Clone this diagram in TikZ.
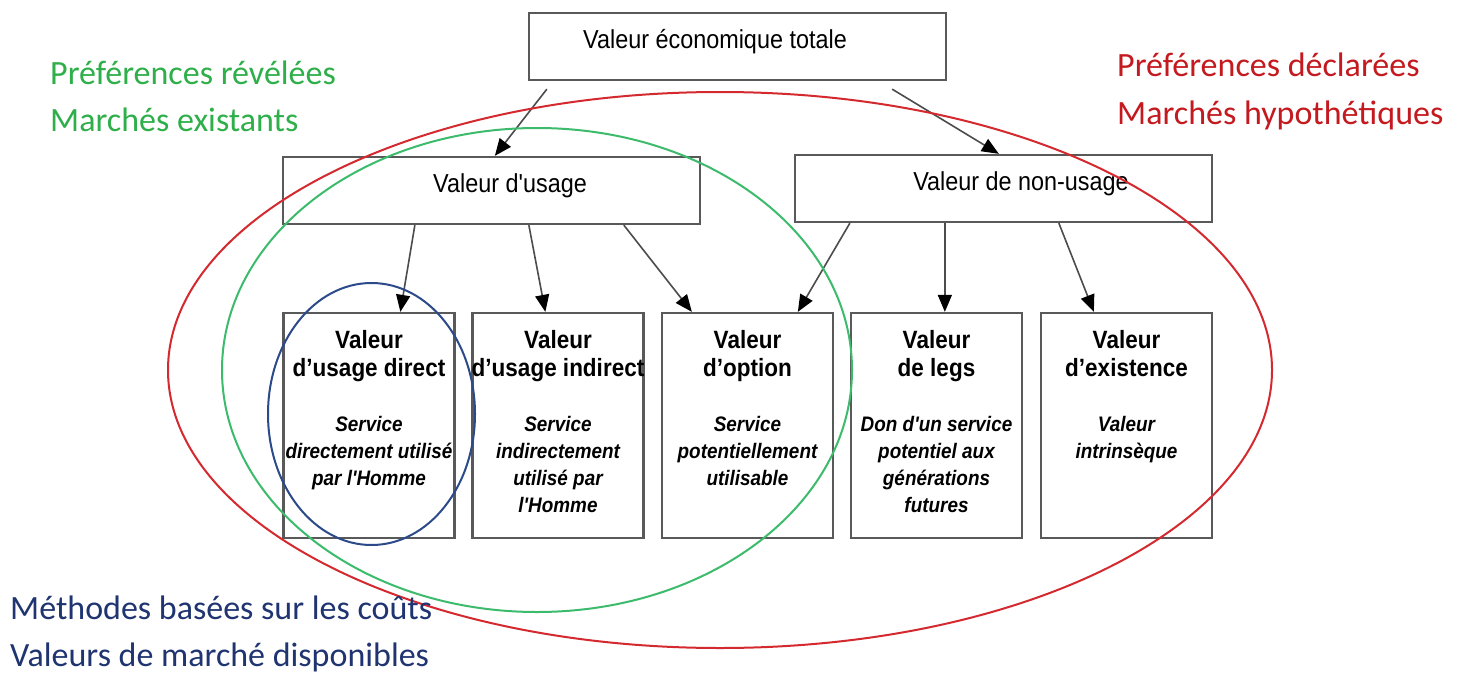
\documentclass[tikz,border=0pt]{standalone}
\usepackage{fontspec}
\setmainfont{Liberation Sans}
\newfontfamily\narrowsans[FakeStretch=0.9]{Liberation Sans}
\newfontfamily\calsans{Carlito}
\usetikzlibrary{arrows.meta}
\definecolor{ellred}{HTML}{D42A2F}
\definecolor{txtred}{HTML}{C41A1F}
\definecolor{ellgreen}{HTML}{3DBB6C}
\definecolor{txtgreen}{HTML}{2EAF4A}
\definecolor{ellblue}{HTML}{2C4A8A}
\definecolor{txtblue}{HTML}{1F3470}
\begin{document}
\begin{tikzpicture}[x=1pt,y=-1pt,
  box/.style={draw=black!65, line width=2.3pt, fill=white, inner sep=0pt, rectangle},
  topbox/.style={box, minimum width=417pt, minimum height=67pt},
  valbox/.style={box, minimum width=171pt, minimum height=225pt},
  lbl/.style={font=\narrowsans\fontsize{26}{30}\selectfont, inner sep=0pt},
  ttl/.style={font=\narrowsans\bfseries\fontsize{25}{28}\selectfont, align=center, inner sep=0pt, anchor=north},
  dsc/.style={font=\narrowsans\bfseries\itshape\fontsize{21}{27}\selectfont, align=center, inner sep=0pt, anchor=north},
  arr/.style={draw=black!70, line width=1.6pt, -{Triangle[length=17pt,width=14pt,color=black]}},
  ann/.style={font=\calsans\fontsize{34}{40}\selectfont, inner sep=0pt, anchor=base west},
  ell/.style={line width=2pt}
]
\fill[white] (0,0) rectangle (1463,677);
\useasboundingbox (0,0) rectangle (1463,677);

% boxes
\node[topbox] (top) at (737.5,46.5) {};
\node[topbox] (use) at (491.5,190.5) {};
\node[topbox] (non) at (1003.5,188.5) {};
\node[valbox] (b1) at (369,425.5) {};
\node[valbox] (b2) at (558,425.5) {};
\node[valbox] (b3) at (747.5,425.5) {};
\node[valbox] (b4) at (936.5,425.5) {};
\node[valbox] (b5) at (1126.5,425.5) {};

% box labels
\node[lbl] (ttop) at (715,42) {Valeur économique totale};
\node[lbl] (tuse) at (510,186) {Valeur d'usage};
\node[lbl] (tnon) at (1021,184) {Valeur de non-usage};

\node[ttl] (h1) at ([yshift=-18pt]b1.north) {Valeur\\d’usage direct};
\node[ttl] (h2) at ([yshift=-18pt]b2.north) {Valeur\\d’usage indirect};
\node[ttl] (h3) at ([yshift=-18pt]b3.north) {Valeur\\d’option};
\node[ttl] (h4) at ([yshift=-18pt]b4.north) {Valeur\\de legs};
\node[ttl] (h5) at ([yshift=-18pt]b5.north) {Valeur\\d’existence};

\node[dsc] (d1) at ([yshift=-104pt]b1.north) {Service\\directement utilisé\\par l'Homme};
\node[dsc] (d2) at ([yshift=-104pt]b2.north) {Service\\indirectement\\utilisé par\\l'Homme};
\node[dsc] (d3) at ([yshift=-104pt]b3.north) {Service\\potentiellement\\utilisable};
\node[dsc] (d4) at ([yshift=-104pt]b4.north) {Don d'un service\\potentiel aux\\générations\\futures};
\node[dsc] (d5) at ([yshift=-104pt]b5.north) {Valeur\\intrinsèque};

% arrows
\draw[arr] ([xshift=19pt,yshift=-8pt]top.south west) -- ([xshift=213pt]use.north west);
\draw[arr] ([xshift=-55pt,yshift=-8pt]top.south east) -- ([xshift=205pt]non.north west);
\draw[arr] ([xshift=133pt]use.south west) -- ([xshift=118pt]b1.north west);
\draw[arr] ([xshift=247pt]use.south west) -- ([xshift=74pt]b2.north west);
\draw[arr] ([xshift=342pt]use.south west) -- ([xshift=31pt]b3.north west);
\draw[arr] ([xshift=56pt]non.south west) -- ([xshift=137pt]b3.north west);
\draw[arr] ([xshift=151pt]non.south west) -- ([xshift=95pt]b4.north west);
\draw[arr] ([xshift=265pt]non.south west) -- ([xshift=54pt]b5.north west);

% ellipses
\draw[ell, ellred] (720,370) ellipse [x radius=552, y radius=278];
\draw[ell, ellgreen] (537,370) ellipse [x radius=315, y radius=242];
\draw[ell, ellblue] (371.5,414) ellipse [x radius=103.5, y radius=131];

% annotations
\node[ann, text=txtgreen] (g1) at (50,84) {Préférences révélées};
\node[ann, text=txtgreen] (g2) at (50,131) {Marchés existants};
\node[ann, text=txtred] (r1) at (1117,76) {Préférences déclarées};
\node[ann, text=txtred] (r2) at (1117,124) {Marchés hypothétiques};
\node[ann, text=txtblue] (m1) at (10,619) {Méthodes basées sur les coûts};
\node[ann, text=txtblue] (m2) at (10,666) {Valeurs de marché disponibles};
\end{tikzpicture}
\end{document}
